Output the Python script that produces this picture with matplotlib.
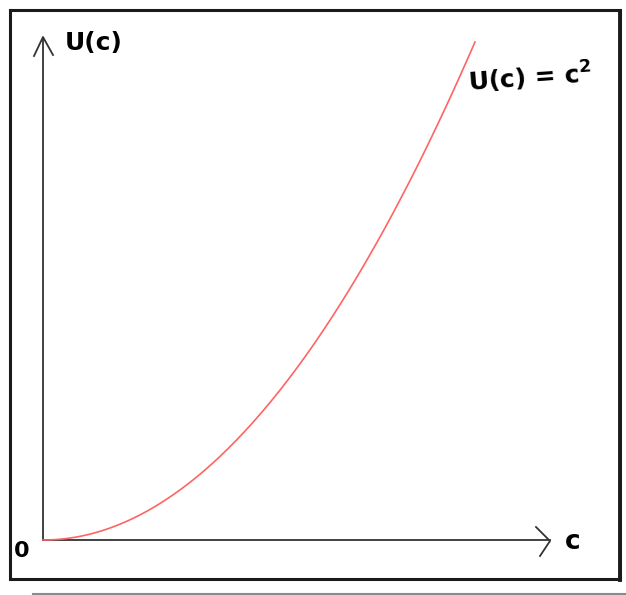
import numpy as np
import matplotlib.pyplot as plt

# utility function U(c) = c^2
c_max = 10
c = np.linspace(0, c_max, 200)
U = c ** 2

W, H = 626, 595
fig = plt.figure(figsize=(W / 100, H / 100), dpi=100)

# background canvas in pixel units for the hand-drawn frame and axes
bg = fig.add_axes([0, 0, 1, 1])
bg.set_xlim(0, W)
bg.set_ylim(H, 0)
bg.axis('off')

# outer box
bg.plot([10, 10, 620, 620, 10], [10, 579, 579, 10, 10], color='#1a1a1a', lw=2.2,
        solid_joinstyle='miter')
bg.plot([620, 620], [12, 580], color='#1a1a1a', lw=2.8)
bg.plot([33, 626], [594, 594], color='#8a8a8a', lw=1.5)

# axes lines with open arrow heads
ax_col = '#333333'
bg.plot([43, 43], [540, 38], color=ax_col, lw=1.3)
bg.plot([34, 43, 53], [56, 37, 55], color=ax_col, lw=1.3)
bg.plot([43, 550], [540, 540], color=ax_col, lw=1.3)
bg.plot([536, 550, 540], [527, 541, 556], color=ax_col, lw=1.3)

bg.text(65, 43, 'U(c)', fontsize=18, fontweight='bold', ha='left', va='center',
        color='black')
bg.text(22, 551, '0', fontsize=16, fontweight='bold', ha='center', va='center',
        color='black')
bg.text(573, 542, 'c', fontsize=19, fontweight='bold', ha='center', va='center',
        color='black')
bg.text(467, 78, r'U(c) = c$^\mathbf{2}$', fontsize=18, fontweight='bold',
        ha='left', va='center', color='black', rotation=4)

# curve axes: origin of the drawn axes at pixel (43, 540)
x0, y0, x1, y1 = 43, 540, 475, 42
ax = fig.add_axes([x0 / W, (H - y0) / H, (x1 - x0) / W, (y0 - y1) / H])
ax.set_xlim(0, c_max)
ax.set_ylim(0, c_max ** 2)
ax.axis('off')
ax.plot(c, U, color='#ff6464', lw=1.2, clip_on=False)

fig.savefig('out.png', dpi=100)
